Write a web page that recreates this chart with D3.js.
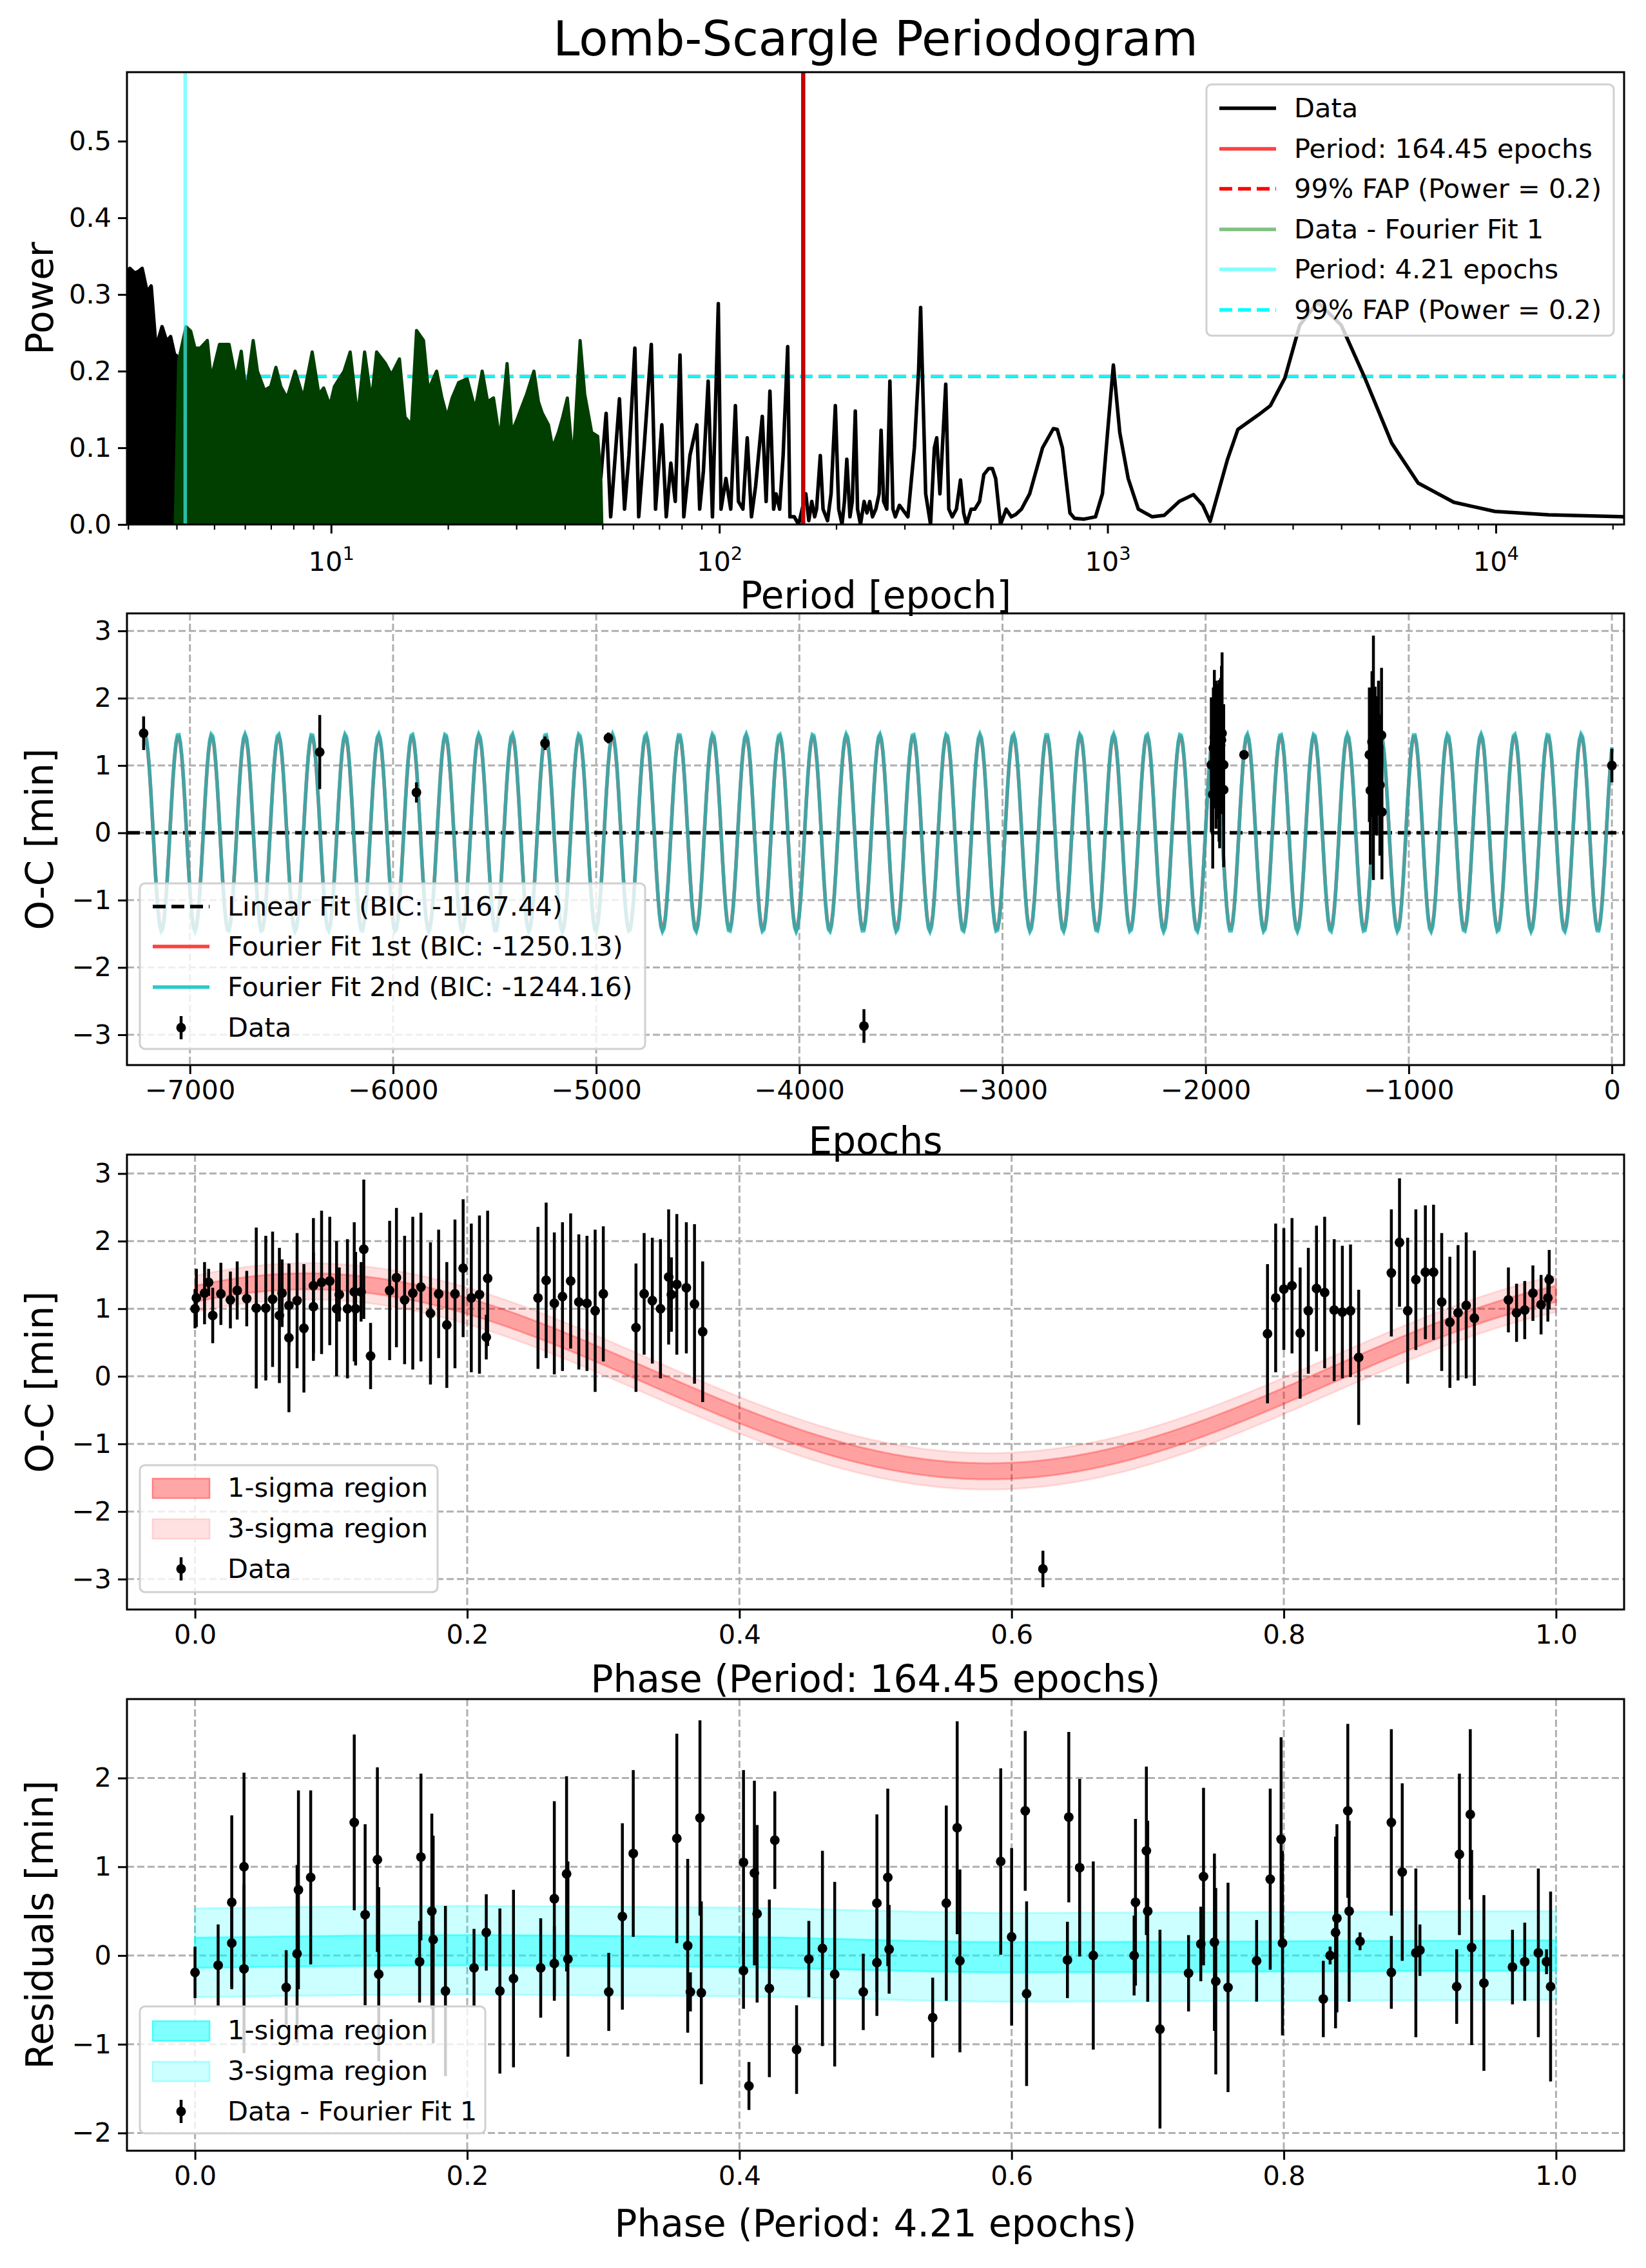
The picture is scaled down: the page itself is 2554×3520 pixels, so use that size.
<!DOCTYPE html>
<html>
<head>
<meta charset="utf-8">
<script src="https://cdn.jsdelivr.net/npm/d3@7"></script>
<style>
  body { margin: 0; background: #fff; }
  text { font-family: "DejaVu Sans", sans-serif; }
</style>
</head>
<body>
<script>
// ---- data ----

// periodogram, dense low-period part (peak envelope)
var densePeriods = [2.98, 3.03, 3.12, 3.19, 3.26, 3.36, 3.44, 3.54, 3.67, 3.77, 3.86, 3.95, 4.0];
var densePower = [0.33, 0.334, 0.328, 0.33, 0.334, 0.303, 0.311, 0.23, 0.258, 0.239, 0.245, 0.222, 0.22];

// residual periodogram (Data - Fourier Fit 1)
var resPeriods = [3.97, 4.05, 4.23, 4.35, 4.46, 4.60, 4.80, 4.91, 5.16, 5.46, 5.68, 5.87, 6.04, 6.30, 6.46, 6.74, 6.99,
  7.21, 7.42, 7.70, 8.08, 8.48, 8.94, 9.30, 9.57, 9.93, 10.2, 10.8, 11.2, 11.7, 12.2, 12.7, 13.1, 13.8, 14.3, 15.0,
  15.5, 16.1, 16.6, 17.3, 17.8, 18.7, 19.3, 19.9, 20.5, 21.3, 22.4, 23.5, 24.5, 25.3, 26.2, 27.2, 28.4, 29.2, 30.3,
  30.8, 31.9, 33.3, 34.2, 35.0, 36.3, 37.2, 38.5, 39.5, 40.6, 42.0, 43.8, 45.0, 46.9, 48.6, 49.5, 49.8];
var resPower = [0.0, 0.214, 0.258, 0.252, 0.23, 0.23, 0.24, 0.19, 0.235, 0.235, 0.19, 0.226, 0.17, 0.24, 0.20, 0.175, 0.18,
  0.205, 0.18, 0.165, 0.20, 0.165, 0.225, 0.17, 0.178, 0.155, 0.18, 0.20, 0.225, 0.14, 0.225, 0.16, 0.225, 0.21, 0.195, 0.216,
  0.14, 0.13, 0.253, 0.24, 0.175, 0.20, 0.165, 0.14, 0.165, 0.185, 0.19, 0.15, 0.20, 0.16, 0.165, 0.11, 0.21, 0.12, 0.14,
  0.15, 0.17, 0.20, 0.16, 0.145, 0.13, 0.10, 0.12, 0.14, 0.165, 0.08, 0.24, 0.17, 0.12, 0.115, 0.06, 0.0];

// periodogram, sparse part
var sparsePeriods = [49.5, 51.1, 52.5, 55.3, 57, 58.5, 60.6, 62, 64, 66.8, 68.5, 71.1, 73, 75, 77, 79.2, 81, 84, 87.5, 89, 91,
  93.6, 96, 99.4, 101, 104, 107, 110, 112, 115, 118, 121, 124, 129, 132, 135, 138, 140, 143, 146, 150, 152, 156, 160, 167,
  170, 173, 176, 178, 182, 185, 190, 194, 199, 203, 207, 210, 213, 217, 220, 224, 227, 231, 236, 240, 244, 248, 253, 258,
  261, 265, 270, 275, 280, 284, 291, 296, 306, 318, 326, 330, 340, 350, 358, 363, 370, 383, 390, 398, 408, 418, 426, 433,
  445, 455, 468, 480, 494, 505, 515, 530, 548, 565, 580, 600, 630, 680, 725, 742, 765, 800, 822, 870, 931, 970, 1000, 1035,
  1075, 1130, 1200, 1303, 1400, 1530, 1664, 1760, 1837, 2037, 2166, 2447, 2627, 2862, 3126, 3478, 3998, 4600, 5395, 6310,
  7795, 9950, 13670, 21400];
var sparsePower = [0.06, 0.145, 0.01, 0.164, 0.02, 0.09, 0.23, 0.01, 0.1, 0.235, 0.02, 0.13, 0.01, 0.08, 0.03, 0.221, 0.01,
  0.09, 0.13, 0.02, 0.07, 0.187, 0.01, 0.288, 0.02, 0.06, 0.02, 0.155, 0.03, 0.02, 0.113, 0.01, 0.05, 0.141, 0.03, 0.174,
  0.02, 0.04, 0.02, 0.09, 0.232, 0.01, 0.01, 0.0, 0.04, 0.005, 0.03, 0.01, 0.02, 0.09, 0.02, 0.005, 0.04, 0.155, 0.02, 0.0,
  0.03, 0.085, 0.01, 0.03, 0.148, 0.02, 0.0, 0.03, 0.015, 0.03, 0.01, 0.02, 0.04, 0.123, 0.03, 0.02, 0.187, 0.02, 0.01,
  0.025, 0.02, 0.01, 0.1, 0.2, 0.283, 0.04, 0.0, 0.1, 0.113, 0.04, 0.183, 0.02, 0.01, 0.02, 0.058, 0.015, 0.0, 0.02, 0.02,
  0.03, 0.065, 0.073, 0.073, 0.06, 0.0, 0.02, 0.01, 0.013, 0.02, 0.04, 0.1, 0.125, 0.124, 0.1, 0.015, 0.008, 0.007, 0.01,
  0.04, 0.12, 0.208, 0.12, 0.06, 0.02, 0.01, 0.012, 0.03, 0.039, 0.025, 0.004, 0.085, 0.124, 0.143, 0.155, 0.191, 0.26,
  0.29, 0.26, 0.191, 0.106, 0.054, 0.029, 0.017, 0.0127, 0.010];

var bestPeriod = 164.45, residPeriod = 4.21, fapPower = 0.193;

// O-C data vs epoch
var epochs = [-7228, -6361, -5885, -5252, -4940, -3682,
  -1972, -1965, -1962, -1957, -1949, -1942, -1934, -1931, -1926, -1922, -1919, -1911, -1911,
  -1811,
  -1194, -1189, -1181, -1174, -1174, -1166, -1157, -1149, -1142, -1134, -1132,
  0];
var ocValues = [1.48, 1.2, 0.6, 1.33, 1.41, -2.87,
  1.01, 0.57, 1.26, 1.42, 1.16, 1.21, 1.07, 0.82, 1.3, 1.38, 1.48, 0.64, 1.01,
  1.16,
  1.16, 0.63, 1.35, 1.98, 0.3, 1.07, 0.96, 1.26, 0.71, 1.45, 0.31,
  1.0];
var ocErrors = [0.25, 0.55, 0.15, 0.1, 0.08, 0.25,
  1.0, 1.1, 0.9, 1.0, 1.1, 1.0, 1.2, 1.05, 1.0, 1.1, 1.2, 1.15, 0.9,
  0.05,
  1.0, 1.1, 1.05, 0.95, 1.0, 1.1, 1.0, 1.0, 1.05, 1.0, 1.0,
  0.25];

// fit parameters (Fourier fits)
var fit1Amp = 1.44, fit2Amp = 1.47, fitPhaseMax = 0.083;
var fitSigma1 = 0.12, fitSigma3 = 0.27;

// folded data, period 164.45
var phase1 = [0, 0.001, 0.007, 0.01, 0.013, 0.019, 0.026, 0.031, 0.038, 0.045, 0.052, 0.057, 0.062, 0.064, 0.069, 0.069,
  0.075, 0.08, 0.087, 0.087, 0.093, 0.099, 0.104, 0.106, 0.112, 0.117, 0.118, 0.122, 0.124, 0.129, 0.143, 0.148, 0.154,
  0.16, 0.166, 0.173, 0.179, 0.185, 0.191, 0.197, 0.203, 0.209, 0.214, 0.215, 0.252, 0.258, 0.264, 0.27, 0.276, 0.282,
  0.288, 0.294, 0.3, 0.324, 0.33, 0.336, 0.342, 0.348, 0.35, 0.354, 0.361, 0.367, 0.373, 0.623,
  0.788, 0.794, 0.8, 0.806, 0.812, 0.818, 0.824, 0.83, 0.837, 0.843, 0.849, 0.855, 0.879, 0.885, 0.891, 0.897, 0.904,
  0.91, 0.916, 0.922, 0.928, 0.934, 0.94, 0.965, 0.971, 0.977, 0.983, 0.989, 0.994, 0.995];
var oc1 = [1.0, 1.16, 1.23, 1.39, 0.9, 1.22, 1.13, 1.27, 1.15, 1.01, 1.01, 1.14, 0.9, 1.23, 0.57, 1.05,
  1.12, 0.71, 1.34, 1.03, 1.39, 1.41, 1.0, 1.21, 1.0, 1.25, 1.0, 1.25, 1.88, 0.3, 1.27, 1.46, 1.13,
  1.23, 1.32, 0.93, 1.22, 0.76, 1.22, 1.6, 1.16, 1.21, 0.58, 1.45, 1.16, 1.42, 1.08, 1.18, 1.41, 1.1,
  1.08, 0.97, 1.22, 0.72, 1.22, 1.12, 1.0, 1.47, 1.21, 1.36, 1.31, 1.07, 0.66, -2.85,
  0.63, 1.16, 1.29, 1.34, 0.64, 0.97, 1.3, 1.24, 0.98, 0.95, 0.97, 0.28, 1.53, 1.98, 0.97, 1.43, 1.54,
  1.54, 1.1, 0.8, 0.94, 1.05, 0.86, 1.13, 0.94, 0.98, 1.23, 1.06, 1.16, 1.43];
var err1 = [0.29, 0.43, 0.46, 0.2, 0.41, 0.46, 0.42, 0.43, 0.41, 1.19, 1.07, 1.0, 1.0, 0.5, 1.1, 0.6,
  1.0, 0.95, 1.0, 0.8, 1.06, 0.95, 1.0, 0.4, 1.03, 1.03, 0.84, 0.44, 1.03, 0.49, 1.03, 1.03, 0.95,
  1.13, 1.1, 1.05, 0.95, 0.93, 1.1, 1.02, 1.1, 1.17, 0.33, 1.0, 1.05, 1.15, 1.05, 1.1, 1.0, 1.0,
  1.0, 1.2, 1.0, 0.95, 0.9, 0.93, 1.03, 1.0, 0.55, 1.04, 0.97, 1.18, 1.04, 0.27,
  1.03, 1.1, 0.9, 1.0, 0.97, 0.93, 0.93, 1.12, 1.05, 0.98, 0.98, 1.0, 0.94, 0.95, 1.08, 1.04, 0.99,
  1.0, 1.02, 0.97, 1.0, 1.08, 1.0, 0.48, 0.43, 0.43, 0.41, 0.44, 0.35, 0.44];

// folded residuals, period 4.21
var phase2 = [0, 0.017, 0.027, 0.027, 0.036, 0.036, 0.067, 0.075, 0.076, 0.085, 0.117, 0.125, 0.134, 0.135, 0.165, 0.166,
  0.174, 0.175, 0.184, 0.205, 0.214, 0.224, 0.234, 0.254, 0.264, 0.264, 0.273, 0.274, 0.304, 0.314, 0.322, 0.354, 0.362,
  0.364, 0.371, 0.372, 0.403, 0.403, 0.407, 0.411, 0.413, 0.422, 0.426, 0.442, 0.451, 0.461, 0.47, 0.491, 0.501, 0.501,
  0.509, 0.51, 0.542, 0.552, 0.56, 0.562, 0.592, 0.6, 0.61, 0.611, 0.641, 0.642, 0.65, 0.66, 0.69, 0.691, 0.699, 0.7,
  0.709, 0.73, 0.739, 0.741, 0.749, 0.75, 0.759, 0.78, 0.79, 0.798, 0.799, 0.829, 0.834, 0.838, 0.839, 0.847, 0.848,
  0.856, 0.879, 0.879, 0.887, 0.897, 0.9, 0.927, 0.929, 0.937, 0.938, 0.947, 0.968, 0.977, 0.987, 0.993, 0.996];
var resid2 = [-0.19, -0.11, 0.6, 0.14, 1.0, -0.15, -0.36, 0.02, 0.74, 0.88, 1.5, 0.46, 1.08, -0.21, -0.07, 1.11,
  0.5, 0.18, -0.4, -0.14, 0.26, -0.4, -0.26, -0.14, 0.64, -0.09, 0.92, -0.04, -0.41, 0.44, 1.15, 1.32, 0.11,
  -0.41, 1.55, -0.42, 1.05, -0.17, -1.47, 0.93, 0.47, -0.37, 1.3, -1.06, -0.04, 0.08, -0.21, -0.41, 0.59, -0.08,
  0.88, 0.07, -0.7, 0.59, 1.44, -0.06, 1.06, 0.21, 1.63, -0.43, -0.05, 1.56, 0.99, 0.0, 0.0, 0.6, 1.18, 0.5,
  -0.83, -0.2, 0.13, 0.89, 0.15, -0.29, -0.36, -0.06, 0.86, 1.31, 0.14, -0.49, 0.0, 0.26, 0.42, 1.63, 0.5,
  0.16, -0.19, 1.5, 0.94, 0.03, 0.06, -0.35, 1.14, 1.59, 0.09, -0.31, -0.13, -0.07, 0.03, -0.07, -0.35];
var err2 = [0.29, 0.46, 0.98, 0.5, 1.06, 0.95, 0.42, 1.0, 1.12, 0.98, 0.99, 1.02, 1.04, 0.98, 0.46, 0.94,
  1.1, 1.17, 0.96, 0.44, 0.43, 0.93, 1.0, 0.56, 1.1, 0.42, 1.1, 1.1, 0.44, 1.05, 0.94, 1.18, 0.98,
  0.22, 1.1, 1.03, 1.04, 0.43, 0.27, 1.04, 1.0, 1.0, 0.55, 0.5, 0.43, 1.1, 1.04, 0.43, 1.0, 0.6,
  1.0, 0.5, 0.45, 1.1, 1.2, 1.03, 1.05, 1.0, 0.9, 1.04, 0.43, 0.96, 1.0, 1.06, 0.45, 0.94, 0.95, 1.02,
  1.12, 0.43, 0.42, 1.0, 1.0, 1.05, 1.18, 0.46, 1.02, 1.15, 1.04, 0.43, 0.1, 1.08, 1.06, 0.98, 1.02,
  0.1, 0.41, 1.05, 1.0, 0.95, 0.29, 0.42, 0.91, 0.96, 1.1, 0.99, 0.42, 0.44, 0.95, 0.14, 1.07];

// residual fit band knots
var bandPhase = [0, 0.2, 0.4, 0.6, 0.8, 1.0];
var bandCenter = [0.03, 0.06, 0.04, -0.02, -0.01, 0.0];
var bandSigma1 = 0.17, bandSigma3 = 0.5;

// ---- drawing ----
var W = 2554, H = 3520;
var L = 197, R = 2520;
var FS = 41.5, LFS = 58;

var svg = d3.select("body").append("svg")
  .attr("width", W).attr("height", H)
  .attr("viewBox", [0, 0, W, H]);

svg.append("rect").attr("width", W).attr("height", H).attr("fill", "#fff");

function frame(g, t, b) {
  g.append("rect").attr("x", L).attr("y", t).attr("width", R - L).attr("height", b - t)
    .attr("fill", "none").attr("stroke", "black").attr("stroke-width", 3);
}

function styleAxis(g) {
  g.select(".domain").remove();
  g.selectAll(".tick line").attr("stroke-width", 3);
  g.selectAll(".tick text").attr("font-size", FS).attr("font-family", "DejaVu Sans");
}

function grid(g, x, y, xt, yt, t, b) {
  var gg = g.append("g").attr("stroke", "#b0b0b0").attr("stroke-width", 3).attr("stroke-dasharray", "11,5");
  gg.selectAll(".gx").data(xt).join("line")
    .attr("x1", d => x(d)).attr("x2", d => x(d)).attr("y1", t).attr("y2", b);
  gg.selectAll(".gy").data(yt).join("line")
    .attr("y1", d => y(d)).attr("y2", d => y(d)).attr("x1", L).attr("x2", R);
}

function errorbars(g, xs, ys, es, x, y) {
  var gg = g.append("g");
  gg.selectAll("line").data(xs).join("line")
    .attr("x1", (d, i) => x(d)).attr("x2", (d, i) => x(d))
    .attr("y1", (d, i) => y(ys[i] + es[i])).attr("y2", (d, i) => y(ys[i] - es[i]))
    .attr("stroke", "black").attr("stroke-width", 4.5);
  gg.selectAll("circle").data(xs).join("circle")
    .attr("cx", d => x(d)).attr("cy", (d, i) => y(ys[i])).attr("r", 7.5).attr("fill", "black");
}

function legend(g, x0, y0, w, h, rows, items) {
  g.append("rect").attr("x", x0).attr("y", y0).attr("width", w).attr("height", h).attr("rx", 8)
    .attr("fill", "white").attr("fill-opacity", 0.8).attr("stroke", "#d0d0d0").attr("stroke-width", 3);
  items.forEach(function (it, i) {
    var cy = rows[i], lx = x0 + 20;
    if (it.type === "line" || it.type === "dash") {
      g.append("line").attr("x1", lx).attr("x2", lx + 88).attr("y1", cy).attr("y2", cy)
        .attr("stroke", it.color).attr("stroke-width", 5.5)
        .attr("stroke-dasharray", it.type === "dash" ? "20,9" : null);
    } else if (it.type === "patch") {
      g.append("rect").attr("x", lx).attr("y", cy - 14).attr("width", 88).attr("height", 30)
        .attr("fill", it.color).attr("stroke", it.edge).attr("stroke-width", 2.5);
    } else {
      g.append("line").attr("x1", lx + 44).attr("x2", lx + 44).attr("y1", cy - 18).attr("y2", cy + 18)
        .attr("stroke", "black").attr("stroke-width", 4.5);
      g.append("circle").attr("cx", lx + 44).attr("cy", cy).attr("r", 7.5).attr("fill", "black");
    }
    g.append("text").attr("x", lx + 116).attr("y", cy + 14).attr("font-size", FS).text(it.label);
  });
}

function ylabel(text, t, b) {
  svg.append("text").attr("transform", `translate(82,${(t + b) / 2}) rotate(-90)`)
    .attr("text-anchor", "middle").attr("font-size", LFS).text(text);
}
function xlabel(text, yb) {
  svg.append("text").attr("x", (L + R) / 2).attr("y", yb).attr("text-anchor", "middle")
    .attr("font-size", LFS).text(text);
}

// ========== Panel 1: periodogram ==========
(function () {
  var t = 112, b = 814;
  var g = svg.append("g");
  var x = d3.scaleLog().domain([2.98, 21400]).range([L, R]);
  var y = d3.scaleLinear().domain([0, 0.59]).range([b, t]);
  svg.append("clipPath").attr("id", "c1").append("rect")
    .attr("x", L).attr("y", t).attr("width", R - L).attr("height", b - t);
  var pg = g.append("g").attr("clip-path", "url(#c1)");

  // FAP lines
  pg.append("line").attr("x1", L).attr("x2", R).attr("y1", y(fapPower)).attr("y2", y(fapPower))
    .attr("stroke", "red").attr("stroke-width", 5).attr("stroke-dasharray", "20,9");
  pg.append("line").attr("x1", L).attr("x2", R).attr("y1", y(fapPower)).attr("y2", y(fapPower))
    .attr("stroke", "cyan").attr("stroke-width", 5).attr("stroke-dasharray", "20,9");

  var area = d3.area().x(d => x(d[0])).y0(y(0)).y1(d => y(d[1]));
  var line = d3.line().x(d => x(d[0])).y(d => y(d[1]));
  var dense = densePeriods.map((p, i) => [p, densePower[i]]);
  pg.append("path").datum(dense).attr("d", area).attr("fill", "black")
    .attr("stroke", "black").attr("stroke-width", 5.5).attr("stroke-linejoin", "round");
  var sparse = sparsePeriods.map((p, i) => [p, sparsePower[i]]);
  pg.append("path").datum(sparse).attr("d", line).attr("fill", "none")
    .attr("stroke", "black").attr("stroke-width", 5.5).attr("stroke-linejoin", "round");
  var res = resPeriods.map((p, i) => [p, resPower[i]]);
  pg.append("path").datum(res).attr("d", area).attr("fill", "#003f00")
    .attr("stroke", "#003f00").attr("stroke-width", 5).attr("stroke-linejoin", "round");

  pg.append("line").attr("x1", x(bestPeriod)).attr("x2", x(bestPeriod)).attr("y1", t).attr("y2", b)
    .attr("stroke", "#c40000").attr("stroke-width", 6.5);
  pg.append("line").attr("x1", x(residPeriod)).attr("x2", x(residPeriod)).attr("y1", t).attr("y2", b)
    .attr("stroke", "#40ffff").attr("stroke-opacity", 0.65).attr("stroke-width", 5.5);

  frame(g, t, b);

  var majors = [10, 100, 1000, 10000];
  var minors = x.ticks().filter(v => majors.indexOf(v) < 0);
  g.append("g").attr("transform", `translate(0,${b})`)
    .call(d3.axisBottom(x).tickValues(minors).tickSize(8).tickFormat(""))
    .call(styleAxis).selectAll(".tick line").attr("stroke-width", 2.2);
  var ax = g.append("g").attr("transform", `translate(0,${b})`)
    .call(d3.axisBottom(x).tickValues(majors).tickSize(14).tickPadding(12).tickFormat(""))
    .call(styleAxis);
  ax.selectAll(".tick text").each(function (d) {
    var s = d3.select(this);
    s.append("tspan").text("10");
    s.append("tspan").attr("font-size", FS * 0.7).attr("dy", -17).text(Math.round(Math.log10(d)));
  }).attr("dy", "1.1em");
  g.append("g").attr("transform", `translate(${L},0)`)
    .call(d3.axisLeft(y).tickValues([0, 0.1, 0.2, 0.3, 0.4, 0.5]).tickSize(14).tickPadding(10).tickFormat(d3.format(".1f")))
    .call(styleAxis);

  legend(g, 1872, 131, 632, 390, [168, 231, 293, 356, 418, 481], [
    { type: "line", color: "black", label: "Data" },
    { type: "line", color: "#ff4040", label: "Period: 164.45 epochs" },
    { type: "dash", color: "red", label: "99% FAP (Power = 0.2)" },
    { type: "line", color: "#80bf80", label: "Data - Fourier Fit 1" },
    { type: "line", color: "#80ffff", label: "Period: 4.21 epochs" },
    { type: "dash", color: "cyan", label: "99% FAP (Power = 0.2)" }
  ]);

  svg.append("text").attr("x", (L + R) / 2).attr("y", 86).attr("text-anchor", "middle")
    .attr("font-size", 74).text("Lomb-Scargle Periodogram");
  ylabel("Power", t, b);
  xlabel("Period [epoch]", 944);
})();

// ========== Panel 2: O-C vs epoch ==========
(function () {
  var t = 952, b = 1653;
  var g = svg.append("g");
  var x = d3.scaleLinear().domain([-7310, 60]).range([L, R]);
  var y = d3.scaleLinear().domain([-3.45, 3.26]).range([b, t]);
  var xt = d3.range(-7000, 1, 1000), yt = d3.range(-3, 4, 1);
  grid(g, x, y, xt, yt, t, b);

  var ep = d3.range(0, 1000).map(i => epochs[0] + (epochs[epochs.length - 1] - epochs[0]) * i / 999);
  var f1 = ep.map(e => [e, fit1Amp * Math.cos(2 * Math.PI * (e / bestPeriod - fitPhaseMax))]);
  var f2 = ep.map(e => [e, fit2Amp * Math.cos(2 * Math.PI * (e / bestPeriod - fitPhaseMax))]);
  var line = d3.line().x(d => x(d[0])).y(d => y(d[1]));

  g.append("line").attr("x1", L).attr("x2", R).attr("y1", y(0)).attr("y2", y(0))
    .attr("stroke", "black").attr("stroke-width", 5.5).attr("stroke-dasharray", "20,9");
  g.append("path").datum(f1).attr("d", line).attr("fill", "none").attr("stroke", "#ff3030")
    .attr("stroke-opacity", 0.8).attr("stroke-width", 5.5);
  g.append("path").datum(f2).attr("d", line).attr("fill", "none").attr("stroke", "#10b8b8")
    .attr("stroke-opacity", 0.78).attr("stroke-width", 5.5);
  errorbars(g, epochs, ocValues, ocErrors, x, y);

  frame(g, t, b);
  g.append("g").attr("transform", `translate(0,${b})`)
    .call(d3.axisBottom(x).tickValues(xt).tickSize(14).tickPadding(10).tickFormat(d => d < 0 ? "\u2212" + (-d) : d))
    .call(styleAxis);
  g.append("g").attr("transform", `translate(${L},0)`)
    .call(d3.axisLeft(y).tickValues(yt).tickSize(14).tickPadding(10).tickFormat(d => d < 0 ? "\u2212" + (-d) : d))
    .call(styleAxis);

  legend(g, 217, 1371, 784, 257, [1407, 1469, 1532, 1595], [
    { type: "dash", color: "black", label: "Linear Fit (BIC: -1167.44)" },
    { type: "line", color: "#ff4040", label: "Fourier Fit 1st (BIC: -1250.13)" },
    { type: "line", color: "#2cc9c9", label: "Fourier Fit 2nd (BIC: -1244.16)" },
    { type: "err", label: "Data" }
  ]);
  ylabel("O-C [min]", t, b);
  xlabel("Epochs", 1791);
})();

// ========== Panel 3: folded at 164.45 ==========
(function () {
  var t = 1792, b = 2498;
  var g = svg.append("g");
  var x = d3.scaleLinear().domain([-0.05, 1.05]).range([L, R]);
  var y = d3.scaleLinear().domain([-3.45, 3.28]).range([b, t]);
  var xt = [0, 0.2, 0.4, 0.6, 0.8, 1.0], yt = d3.range(-3, 4, 1);
  grid(g, x, y, xt, yt, t, b);

  var ph = d3.range(0, 401).map(i => i / 400);
  var model = p => fit1Amp * 0.976 * Math.cos(2 * Math.PI * (p - fitPhaseMax));
  var band = s => d3.area().x(p => x(p)).y0(p => y(model(p) - s)).y1(p => y(model(p) + s));
  g.append("path").datum(ph).attr("d", band(fitSigma3)).attr("fill", "red").attr("fill-opacity", 0.12)
    .attr("stroke", "red").attr("stroke-opacity", 0.1).attr("stroke-width", 3);
  g.append("path").datum(ph).attr("d", band(fitSigma1)).attr("fill", "red").attr("fill-opacity", 0.28)
    .attr("stroke", "red").attr("stroke-opacity", 0.25).attr("stroke-width", 3);
  errorbars(g, phase1, oc1, err1, x, y);

  frame(g, t, b);
  g.append("g").attr("transform", `translate(0,${b})`)
    .call(d3.axisBottom(x).tickValues(xt).tickSize(14).tickPadding(10).tickFormat(d3.format(".1f")))
    .call(styleAxis);
  g.append("g").attr("transform", `translate(${L},0)`)
    .call(d3.axisLeft(y).tickValues(yt).tickSize(14).tickPadding(10).tickFormat(d => d < 0 ? "\u2212" + (-d) : d))
    .call(styleAxis);

  legend(g, 217, 2274, 462, 197, [2309, 2372, 2435], [
    { type: "patch", color: "#ffa6a6", edge: "#ff8080", label: "1-sigma region" },
    { type: "patch", color: "#ffe1e1", edge: "#ffd0d0", label: "3-sigma region" },
    { type: "err", label: "Data" }
  ]);
  ylabel("O-C [min]", t, b);
  xlabel("Phase (Period: 164.45 epochs)", 2626);
})();

// ========== Panel 4: residuals folded at 4.21 ==========
(function () {
  var t = 2637, b = 3338;
  var g = svg.append("g");
  var x = d3.scaleLinear().domain([-0.05, 1.05]).range([L, R]);
  var y = d3.scaleLinear().domain([-2.2, 2.89]).range([b, t]);
  var xt = [0, 0.2, 0.4, 0.6, 0.8, 1.0], yt = d3.range(-2, 3, 1);
  grid(g, x, y, xt, yt, t, b);

  var knots = bandPhase.map((p, i) => [p, bandCenter[i]]);
  var band = s => d3.area().curve(d3.curveMonotoneX).x(d => x(d[0])).y0(d => y(d[1] - s)).y1(d => y(d[1] + s));
  g.append("path").datum(knots).attr("d", band(bandSigma3)).attr("fill", "cyan").attr("fill-opacity", 0.2)
    .attr("stroke", "cyan").attr("stroke-opacity", 0.25).attr("stroke-width", 3);
  g.append("path").datum(knots).attr("d", band(bandSigma1)).attr("fill", "cyan").attr("fill-opacity", 0.42)
    .attr("stroke", "cyan").attr("stroke-opacity", 0.5).attr("stroke-width", 3);
  errorbars(g, phase2, resid2, err2, x, y);

  frame(g, t, b);
  g.append("g").attr("transform", `translate(0,${b})`)
    .call(d3.axisBottom(x).tickValues(xt).tickSize(14).tickPadding(10).tickFormat(d3.format(".1f")))
    .call(styleAxis);
  g.append("g").attr("transform", `translate(${L},0)`)
    .call(d3.axisLeft(y).tickValues(yt).tickSize(14).tickPadding(10).tickFormat(d => d < 0 ? "\u2212" + (-d) : d))
    .call(styleAxis);

  legend(g, 217, 3114, 536, 197, [3151, 3214, 3277], [
    { type: "patch", color: "#80ffff", edge: "#40ffff", label: "1-sigma region" },
    { type: "patch", color: "#ccffff", edge: "#a0ffff", label: "3-sigma region" },
    { type: "err", label: "Data - Fourier Fit 1" }
  ]);
  ylabel("Residuals [min]", t, b);
  xlabel("Phase (Period: 4.21 epochs)", 3471);
})();
</script>
</body>
</html>
